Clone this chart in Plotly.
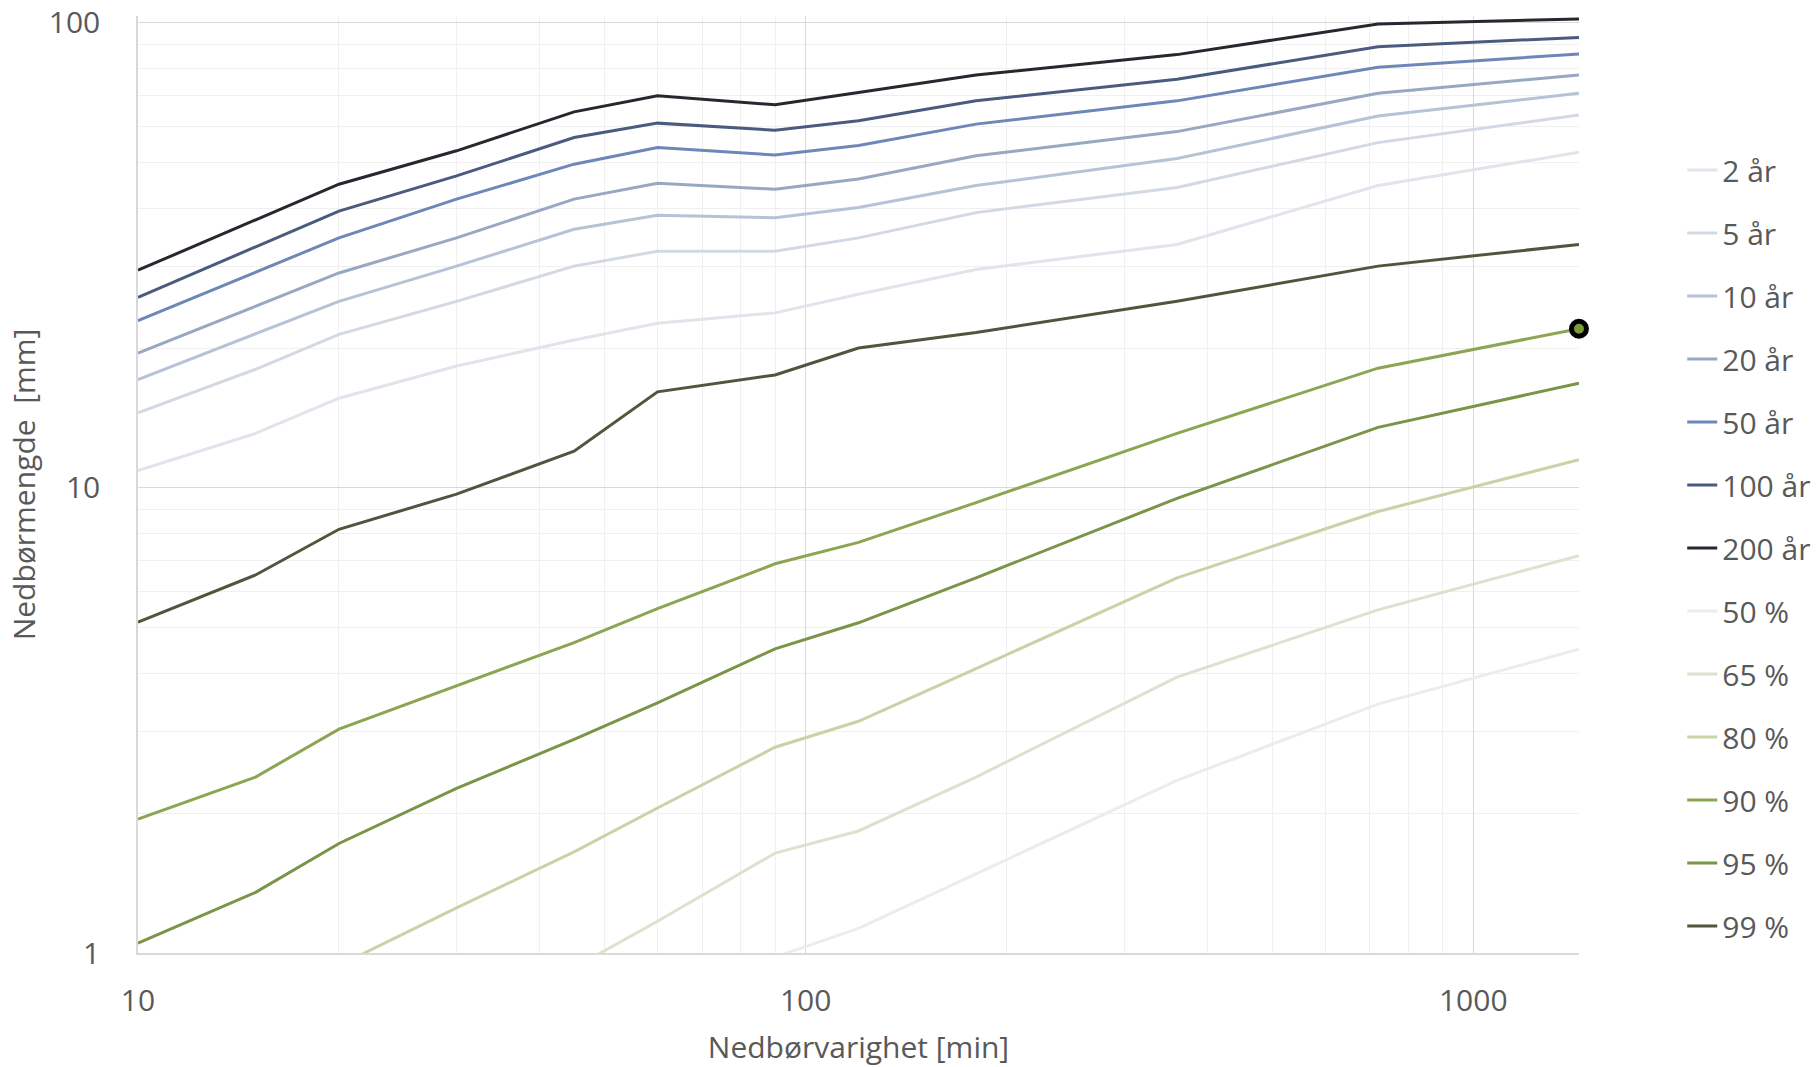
import plotly.graph_objects as go

durations = [10, 15, 20, 30, 45, 60, 90, 120, 180, 360, 720, 1440]

names = ["2 år", "5 år", "10 år", "20 år", "50 år", "100 år", "200 år",
         "50 %", "65 %", "80 %", "90 %", "95 %", "99 %"]

v_2ar = [10.9, 13.1, 15.6, 18.3, 20.8, 22.6, 23.8, 26.1, 29.5, 33.4, 44.7, 52.7]
v_5ar = [14.5, 18.0, 21.4, 25.2, 30.0, 32.3, 32.3, 34.5, 39.1, 44.3, 55.3, 63.4]
v_10ar = [17.1, 21.5, 25.2, 30.0, 36.0, 38.6, 38.1, 40.1, 44.7, 51.1, 63.1, 70.6]
v_20ar = [19.5, 24.6, 29.0, 34.5, 41.8, 45.2, 43.9, 46.2, 51.8, 58.4, 70.6, 77.3]
v_50ar = [22.9, 29.1, 34.5, 41.8, 49.7, 54.0, 52.0, 54.5, 60.6, 68.0, 80.3, 85.8]
v_100ar = [25.7, 33.0, 39.4, 46.9, 56.7, 60.9, 58.8, 61.6, 68.0, 75.7, 88.9, 93.1]
v_200ar = [29.4, 37.8, 45.0, 53.1, 64.4, 69.7, 66.7, 70.9, 77.3, 85.5, 99.5, 102.0]

p_50 = [0.20, 0.28, 0.35, 0.45, 0.60, 0.70, 0.98, 1.13, 1.48, 2.35, 3.43, 4.50]
p_65 = [0.30, 0.42, 0.50, 0.66, 0.93, 1.17, 1.64, 1.83, 2.39, 3.92, 5.47, 7.15]
p_80 = [0.55, 0.72, 0.94, 1.25, 1.65, 2.05, 2.77, 3.15, 4.09, 6.41, 8.90, 11.5]
p_90 = [1.94, 2.39, 3.03, 3.75, 4.65, 5.50, 6.87, 7.64, 9.30, 13.1, 18.1, 22.0]
p_95 = [1.05, 1.35, 1.72, 2.26, 2.88, 3.45, 4.51, 5.13, 6.41, 9.50, 13.5, 16.8]
p_99 = [5.15, 6.50, 8.15, 9.70, 12.0, 16.1, 17.5, 20.0, 21.6, 25.2, 30.0, 33.4]

series = [v_2ar, v_5ar, v_10ar, v_20ar, v_50ar, v_100ar, v_200ar,
          p_50, p_65, p_80, p_90, p_95, p_99]

colors = ["#e0e4eb", "#d3d9e3", "#b6c2d6", "#98a8c2", "#6d87b8", "#4a5b7e", "#24292f",
          "#ecede6", "#dde2cf", "#c8d3a8", "#8ca552", "#7a9448", "#4e573d"]

# highlighted point: end of the 90 % curve
marker_series = "90 %"

FONT = "Open Sans"
TXT = "#595959"
FS = 30

fig = go.Figure()
for i, (nm, vals, col) in enumerate(zip(names, series, colors)):
    fig.add_trace(go.Scatter(
        x=durations, y=vals, name=nm, mode="lines",
        line=dict(color=col, width=3),
        legendgroup=f"g{i}",
    ))

idx = names.index(marker_series)
fig.add_trace(go.Scatter(
    x=[durations[-1]], y=[series[idx][-1]], mode="markers", showlegend=False,
    marker=dict(size=15, color="#7a9a3a", line=dict(color="#000000", width=5)),
    cliponaxis=False,
))

fig.update_layout(
    width=1820, height=1067,
    margin=dict(l=138, r=241, t=16, b=114),
    paper_bgcolor="white", plot_bgcolor="white",
    font=dict(family=FONT, size=FS, color=TXT),
    showlegend=True,
    legend=dict(
        xref="container", yref="container",
        x=0.9243, y=0.865, xanchor="left", yanchor="top",
        font=dict(family=FONT, size=FS, color=TXT),
        tracegroupgap=21, bgcolor="rgba(0,0,0,0)",
        maxheight=1000,
    ),
)

fig.update_xaxes(
    type="log", range=[1, 3.1584],
    tickvals=[10, 100, 1000], ticktext=["10", "100", "1000"],
    showgrid=True, gridcolor="#d9d9d9", gridwidth=1,
    minor=dict(dtick="D1", showgrid=True, gridcolor="#f0f0f0", ticks=""),
    showline=True, linecolor="#d9d9d9", linewidth=1.5,
    zeroline=False, ticks="", ticklabelstandoff=20, automargin=False,
    tickfont=dict(size=FS, color=TXT),
    title=dict(text="Nedbørvarighet [min]", font=dict(size=FS, color=TXT), standoff=25),
)
fig.update_yaxes(
    type="log", range=[0, 2.015],
    tickvals=[1, 10, 100], ticktext=["1", "10", "100"],
    showgrid=True, gridcolor="#d9d9d9", gridwidth=1,
    minor=dict(dtick="D1", showgrid=True, gridcolor="#f0f0f0", ticks=""),
    showline=True, linecolor="#d9d9d9", linewidth=1.5,
    zeroline=False, ticks="", ticklabelstandoff=30, automargin=False,
    tickfont=dict(size=FS, color=TXT),
    title=dict(text="Nedbørmengde  [mm]", font=dict(size=FS, color=TXT), standoff=4),
)

fig.write_html("out.html")
